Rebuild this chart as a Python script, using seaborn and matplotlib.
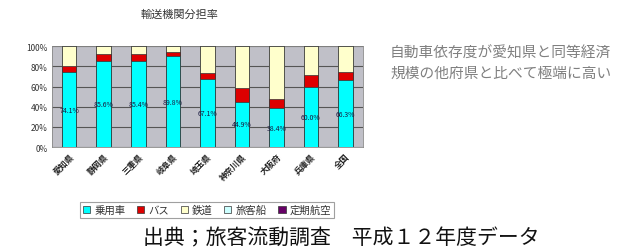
import matplotlib
matplotlib.use("Agg")
import matplotlib.pyplot as plt
from matplotlib.patches import Patch
import seaborn as sns
import pandas as pd
import numpy as np

prefectures = ["愛知県", "静岡県", "三重県", "岐阜県", "埼玉県", "神奈川県", "大阪府", "兵庫県", "全国"]
car = [74.1, 85.6, 85.4, 89.8, 67.1, 44.9, 38.4, 60.0, 66.3]
bus = [6.5, 7.0, 6.5, 4.8, 6.5, 13.5, 9.5, 11.0, 8.5]
rail = [19.4, 7.4, 8.1, 5.4, 26.4, 41.6, 52.1, 29.0, 25.2]
ship = [0, 0, 0, 0, 0, 0, 0, 0, 0]
air = [0, 0, 0, 0, 0, 0, 0, 0, 0]
series_names = ["乗用車", "バス", "鉄道", "旅客船", "定期航空"]
colors = ["#00FFFF", "#DD0000", "#FFFFCC", "#CCFFFF", "#660066"]
title = "輸送機関分担率"
note_lines = ["自動車依存度が愛知県と同等経済", "規模の他府県と比べて極端に高い"]
source = "出典；旅客流動調査　平成１２年度データ"

sns.set_theme(style="white")
plt.rcParams["font.family"] = ["Noto Sans CJK JP", "DejaVu Sans"]

fig = plt.figure(figsize=(6.18, 2.51), dpi=100)
ax = fig.add_axes([0.084, 0.410, 0.503, 0.402])
ax.set_facecolor("#C0C0C8")

values = [car, bus, rail, ship, air]
cum = np.cumsum(np.array(values), axis=0)
df = pd.DataFrame({"pref": prefectures})
for i in range(len(series_names) - 1, -1, -1):
    df["v"] = cum[i]
    sns.barplot(data=df, x="pref", y="v", color=colors[i], saturation=1,
                width=0.42, edgecolor="#333333", linewidth=0.5, ax=ax, zorder=3)

for j, v in enumerate(car):
    ax.text(j, v / 2, f"{v:.1f}%", ha="center", va="center", fontsize=5,
            color="#1a1a40", zorder=5)

ax.set_ylim(0, 100)
ax.set_xlim(-0.5, len(prefectures) - 0.5)
ax.set_yticks(range(0, 101, 20))
ax.set_yticklabels([f"{t}%" for t in range(0, 101, 20)], fontsize=6, color="#333333")
ax.yaxis.grid(True, color="#555555", linewidth=0.8, zorder=1)
ax.set_axisbelow(True)
ax.set_xlabel("")
ax.set_ylabel("")
ax.set_xticks(range(len(prefectures)))
ax.set_xticklabels(prefectures, rotation=45, ha="right", rotation_mode="anchor",
                   fontsize=6, fontweight="bold", color="#222222")
ax.tick_params(axis="both", length=0, pad=3)
for s in ax.spines.values():
    s.set_color("#888888")
    s.set_linewidth(0.6)

fig.text(180 / 618, 1 - 15 / 251, title, ha="center", va="center", fontsize=8,
         color="#333333")
fig.text(390 / 618, 1 - 53 / 251, note_lines[0], ha="left", va="center",
         fontsize=10.6, color="#808080")
fig.text(390 / 618, 1 - 74 / 251, note_lines[1], ha="left", va="center",
         fontsize=10.6, color="#808080")
fig.text(143 / 618, 1 - 238 / 251, source, ha="left", va="center",
         fontsize=15, color="#111111")

handles = [Patch(facecolor=c, edgecolor="#333333", linewidth=0.5) for c in colors]
leg = fig.legend(handles, series_names, ncol=5, loc="center",
                 bbox_to_anchor=(207 / 618, 1 - 211 / 251), fontsize=7.5,
                 frameon=True, fancybox=False, edgecolor="#888888",
                 handlelength=0.7, handleheight=0.7, handletextpad=0.4,
                 columnspacing=1.1, borderpad=0.3, labelcolor="#333333")
leg.get_frame().set_linewidth(0.8)

fig.savefig("out.png", dpi=100, facecolor="white")
